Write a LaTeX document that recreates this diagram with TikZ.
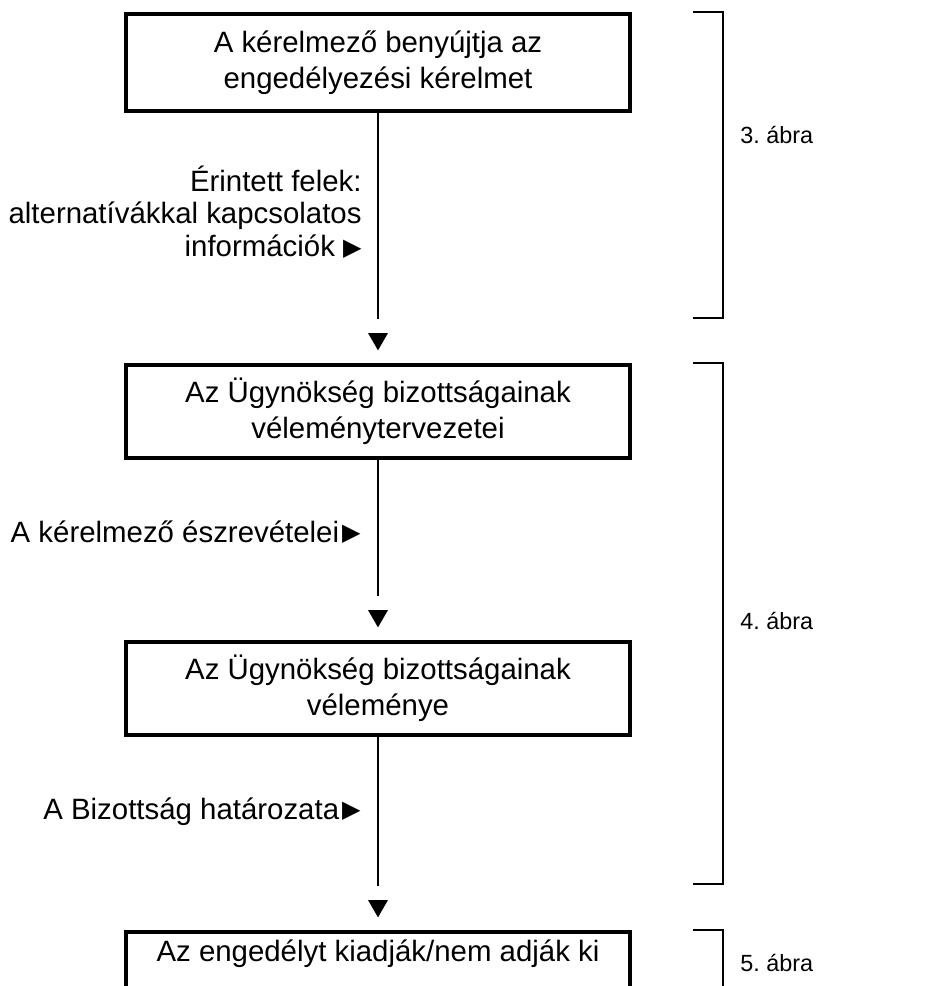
\documentclass[tikz,border=0pt]{standalone}
\usepackage{fontspec}
\setmainfont{Liberation Sans}
\newfontfamily\symfont{DejaVu Sans}
\usetikzlibrary{shapes.geometric}
\frenchspacing

\newcommand{\tri}{{\symfont\fontsize{12pt}{12pt}\selectfont\raisebox{0.6pt}{▶}}}

\tikzset{
  stage/.style={rectangle, draw=black, line width=2pt, minimum width=252pt, minimum height=46.5pt, inner sep=0pt, align=center, font=\fontsize{14.7pt}{18pt}\selectfont},
  head/.style={regular polygon, regular polygon sides=3, shape border rotate=180, fill=black, minimum size=11.55pt, inner sep=0pt},
  link/.style={line width=0.75pt, shorten >=7pt},
  note/.style={inner sep=0pt, align=right, font=\fontsize{14.7pt}{16.25pt}\selectfont},
  figlabel/.style={inner sep=0pt, anchor=base west, font=\fontsize{11.7pt}{14pt}\selectfont},
  bracket/.style={line width=0.75pt}
}

\begin{document}
\begin{tikzpicture}[x=0.5pt, y=-0.5pt]
\useasboundingbox (0,0) rectangle (932,986);
\clip (0,0) rectangle (932,986);

\node (box1) [stage, minimum height=48.5pt] at (378,62.5) {A kérelmező benyújtja az\\engedélyezési kérelmet};
\node (box2) [stage, node distance=174.5pt, below of=box1] {Az Ügynökség bizottságainak\\véleménytervezetei};
\node (box3) [stage, node distance=138.5pt, below of=box2] {Az Ügynökség bizottságainak\\véleménye};
\node (box4) [stage, minimum height=0pt, text height=14.5pt, text depth=30pt, node distance=144pt, below of=box3] {Az engedélyt kiadják/nem adják ki};

\node (arr1) [head, node distance=36.35pt, above of=box2] {};
\node (arr2) [head, node distance=36.35pt, above of=box3] {};
\node (arr3) [head, node distance=35.35pt, above of=box4] {};

\draw[link] (box1) -- (arr1);
\draw[link] (box2) -- (arr2);
\draw[link] (box3) -- (arr3);

\node (note1) [note, anchor=east] at (362,212) {Érintett felek:\\alternatívákkal kapcsolatos\\információk \tri};
\node (note2) [note, anchor=base east] at (361,542) {A kérelmező észrevételei\kern1.5pt\tri};
\node (note3) [note, anchor=base east] at (361,819) {A Bizottság határozata\kern1.5pt\tri};

\draw[bracket] (693,12) -- (723,12) -- (723,318) -- (693,318);
\draw[bracket] (693,363) -- (723,363) -- (723,884) -- (693,884);
\draw[bracket] (693,930) -- (723,930) -- (723,1000);

\node (fig3) [figlabel] at (740,143) {3. ábra};
\node (fig4) [figlabel] at (740,629) {4. ábra};
\node (fig5) [figlabel] at (740,971) {5. ábra};

\end{tikzpicture}
\end{document}
